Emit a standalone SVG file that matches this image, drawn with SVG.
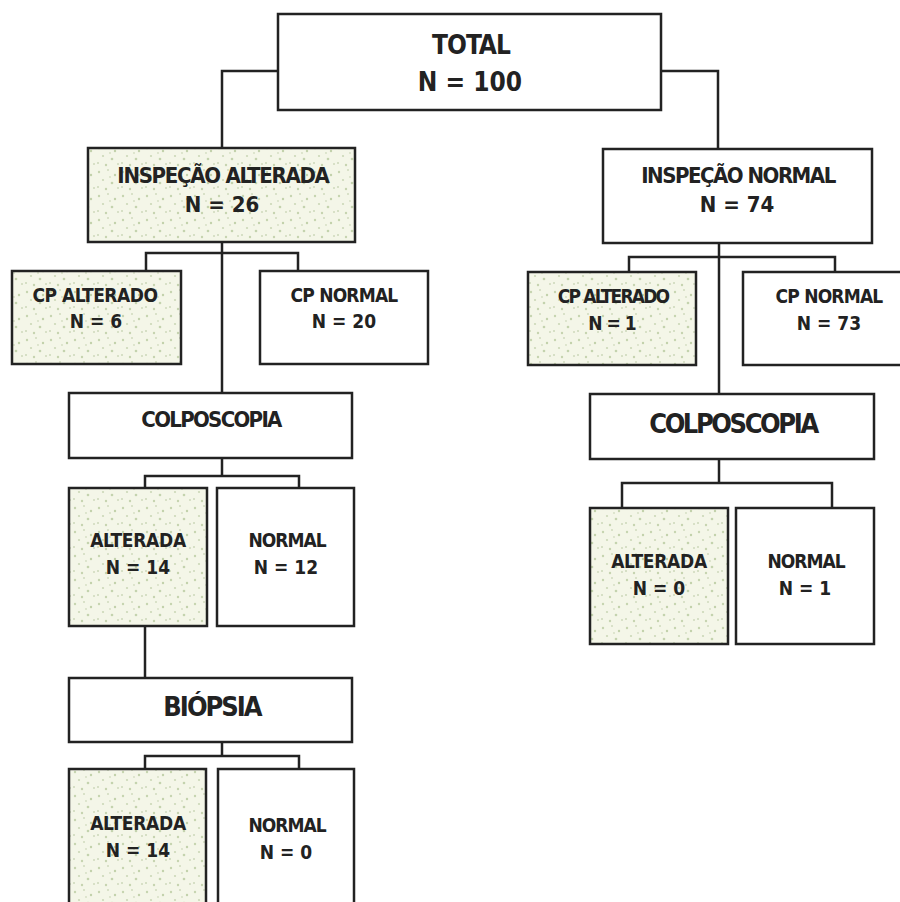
<svg xmlns="http://www.w3.org/2000/svg" width="900" height="902" viewBox="0 0 900 902">
<defs>
<pattern id="speck" width="24" height="24" patternUnits="userSpaceOnUse">
<rect width="24" height="24" fill="#f4f6e8"/>
<circle cx="3" cy="4" r="1.2" fill="#c6d5b0"/>
<circle cx="12" cy="2" r="1" fill="#d0dabd"/>
<circle cx="19" cy="7" r="1.2" fill="#c2d1ab"/>
<circle cx="7" cy="12" r="1.1" fill="#ccd8b8"/>
<circle cx="16" cy="15" r="1.3" fill="#c4d3ae"/>
<circle cx="2" cy="19" r="1" fill="#cdd8ba"/>
<circle cx="10" cy="21" r="1.2" fill="#c6d4b0"/>
<circle cx="22" cy="20" r="1" fill="#cfd9bc"/>
<circle cx="14" cy="9" r="0.9" fill="#d3ddc1"/>
</pattern>
<style>
.box{stroke:#222;stroke-width:2.5;fill:#fff}
.alt{fill:url(#speck)}
.t{font-family:"DejaVu Sans Condensed","DejaVu Sans",sans-serif;font-weight:bold;fill:#222;text-anchor:middle;font-stretch:condensed}
.c path{fill:none;stroke:#222;stroke-width:2.5}
</style>
</defs>
<rect width="900" height="902" fill="#fff"/>
<g class="c" id="connectors">
<path d="M278 71 H222 V148"/>
<path d="M661 71 H718 V149"/>
<path d="M222 242 V393"/>
<path d="M146 271 V253 H298 V271"/>
<path d="M719 243 V394"/>
<path d="M629 272 V257 H835 V272"/>
<path d="M222 458 V476"/>
<path d="M145 488 V476 H299 V488"/>
<path d="M145 626 V678"/>
<path d="M222 742 V756"/>
<path d="M145 769 V756 H299 V769"/>
<path d="M719 459 V483"/>
<path d="M622 508 V483 H832 V508"/>
</g>
<g id="total"><rect class="box" x="278" y="14" width="383" height="96"/>
<text class="t" x="471" y="54" font-size="26" letter-spacing="-1">TOTAL</text>
<text class="t" x="470" y="91" font-size="26">N = 100</text></g>
<g id="insp-alt"><rect class="box alt" x="88" y="148" width="267" height="94"/>
<text class="t" x="223" y="183" font-size="22" letter-spacing="-1.3">INSPEÇÃO ALTERADA</text>
<text class="t" x="222" y="212" font-size="22">N = 26</text></g>
<g id="insp-norm"><rect class="box" x="603" y="149" width="269" height="94"/>
<text class="t" x="738" y="183" font-size="22" letter-spacing="-1.5">INSPEÇÃO NORMAL</text>
<text class="t" x="737" y="212" font-size="22">N = 74</text></g>
<g id="cp-alt-l"><rect class="box alt" x="12" y="271" width="169" height="93"/>
<text class="t" x="95" y="302" font-size="19" letter-spacing="-0.5">CP ALTERADO</text>
<text class="t" x="96" y="328" font-size="19">N = 6</text></g>
<g id="cp-norm-l"><rect class="box" x="260" y="271" width="168" height="93"/>
<text class="t" x="344" y="302" font-size="19" letter-spacing="-0.8">CP NORMAL</text>
<text class="t" x="344" y="328" font-size="19">N = 20</text></g>
<g id="cp-alt-r"><rect class="box alt" x="528" y="272" width="168" height="93"/>
<text class="t" x="613" y="303" font-size="19" letter-spacing="-1.8">CP ALTERADO</text>
<text class="t" x="612" y="330" font-size="19" letter-spacing="-1">N = 1</text></g>
<g id="cp-norm-r"><rect class="box" x="743" y="272" width="160" height="93"/>
<text class="t" x="829" y="303" font-size="19" letter-spacing="-0.8">CP NORMAL</text>
<text class="t" x="829" y="330" font-size="19">N = 73</text></g>
<g id="colpo-l"><rect class="box" x="69" y="393" width="283" height="65"/>
<text class="t" x="211" y="427" font-size="22" letter-spacing="-1.7">COLPOSCOPIA</text></g>
<g id="colpo-r"><rect class="box" x="590" y="394" width="284" height="65"/>
<text class="t" x="733" y="433" font-size="27" letter-spacing="-2.4">COLPOSCOPIA</text></g>
<g id="colpo-alt-l"><rect class="box alt" x="69" y="488" width="138" height="138"/>
<text class="t" x="138" y="547" font-size="19" letter-spacing="-0.3">ALTERADA</text>
<text class="t" x="138" y="574" font-size="19">N = 14</text></g>
<g id="colpo-norm-l"><rect class="box" x="217" y="488" width="137" height="138"/>
<text class="t" x="287" y="547" font-size="19" letter-spacing="-1">NORMAL</text>
<text class="t" x="286" y="574" font-size="19">N = 12</text></g>
<g id="colpo-alt-r"><rect class="box alt" x="590" y="508" width="138" height="136"/>
<text class="t" x="659" y="568" font-size="19" letter-spacing="-0.3">ALTERADA</text>
<text class="t" x="659" y="595" font-size="19">N = 0</text></g>
<g id="colpo-norm-r"><rect class="box" x="736" y="508" width="138" height="136"/>
<text class="t" x="806" y="568" font-size="19" letter-spacing="-1">NORMAL</text>
<text class="t" x="805" y="595" font-size="19">N = 1</text></g>
<g id="biopsia"><rect class="box" x="69" y="678" width="283" height="64"/>
<text class="t" x="212" y="716" font-size="27" letter-spacing="-2">BIÓPSIA</text></g>
<g id="bio-alt"><rect class="box alt" x="69" y="769" width="137" height="150"/>
<text class="t" x="138" y="830" font-size="19" letter-spacing="-0.3">ALTERADA</text>
<text class="t" x="138" y="857" font-size="19">N = 14</text></g>
<g id="bio-norm"><rect class="box" x="218" y="769" width="136" height="150"/>
<text class="t" x="287" y="832" font-size="19" letter-spacing="-1">NORMAL</text>
<text class="t" x="286" y="859" font-size="19">N = 0</text></g>
</svg>
